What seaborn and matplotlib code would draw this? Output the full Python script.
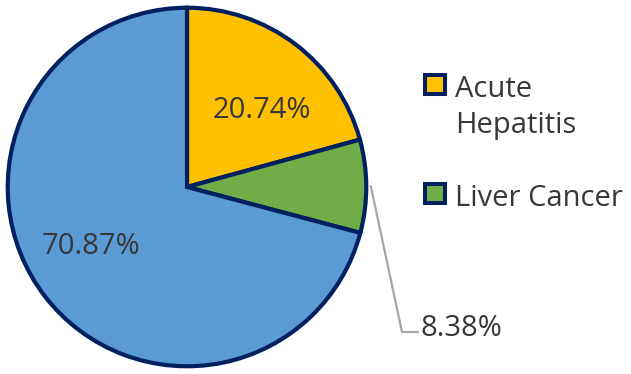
import matplotlib
matplotlib.use("Agg")
import matplotlib.pyplot as plt
import seaborn as sns
import numpy as np
from matplotlib.patches import Rectangle

categories = ["Acute Hepatitis", "Liver Cancer", "Other"]
legend_labels = ["Acute\nHepatitis", "Liver Cancer"]
values = [20.74, 8.38, 70.87]
colors = ["#FFC000", "#70AD47", "#5B9BD5"]
edge = "#002060"
txt = "#383838"

sns.set_theme(style="white")
plt.rcParams["font.family"] = ["Open Sans", "DejaVu Sans"]

W, H = 631, 374
fig = plt.figure(figsize=(W / 100, H / 100), dpi=100)
ax = fig.add_axes([0, 0, 1, 1])
cx, cy, s = 187, 187, 182.0

wedges, _ = ax.pie(values, colors=colors, startangle=90, counterclock=False,
                   radius=0.985, wedgeprops=dict(edgecolor=edge, linewidth=3.0))
ax.set_xlim(-cx / s, (W - cx) / s)
ax.set_ylim(-(H - cy) / s, cy / s)
ax.set_aspect("equal")
ax.axis("off")

def d(px, py):
    return ((px - cx) / s, (cy - py) / s)

fs = 21
ax.text(*d(262, 110), f"{values[0]:.2f}%", ha="center", va="center", fontsize=fs, color=txt)
ax.text(*d(91, 246), f"{values[2]:.2f}%", ha="center", va="center", fontsize=fs, color=txt)

# leader line for small slice
w = wedges[1]
mid = np.deg2rad((w.theta1 + w.theta2) / 2)
x0, y0 = 1.01 * np.cos(mid), 1.01 * np.sin(mid)
ex, ey = d(402, 332)
tx, ty = d(418, 332)
ax.plot([x0, ex, tx], [y0, ey, ty], color="#A6A6A6", lw=1.6, solid_joinstyle="miter")
ax.text(*d(421, 336), f"{values[1]:.2f}%", ha="left", va="baseline", fontsize=fs, color=txt)

# legend
for (lab, col, ytop) in zip(legend_labels, colors[:2], [75, 184]):
    fig.patches.append(Rectangle((425 / W, 1 - (ytop + 19) / H), 20 / W, 19 / H,
                                 transform=fig.transFigure, facecolor=col,
                                 edgecolor=edge, linewidth=2.9, joinstyle="miter"))
    for i, line in enumerate(lab.split("\n")):
        base = ytop + 22 + i * 36
        fig.text(455 / W, 1 - base / H, line, ha="left", va="baseline", fontsize=fs,
                 color=txt)

fig.savefig("out.png", dpi=100)
